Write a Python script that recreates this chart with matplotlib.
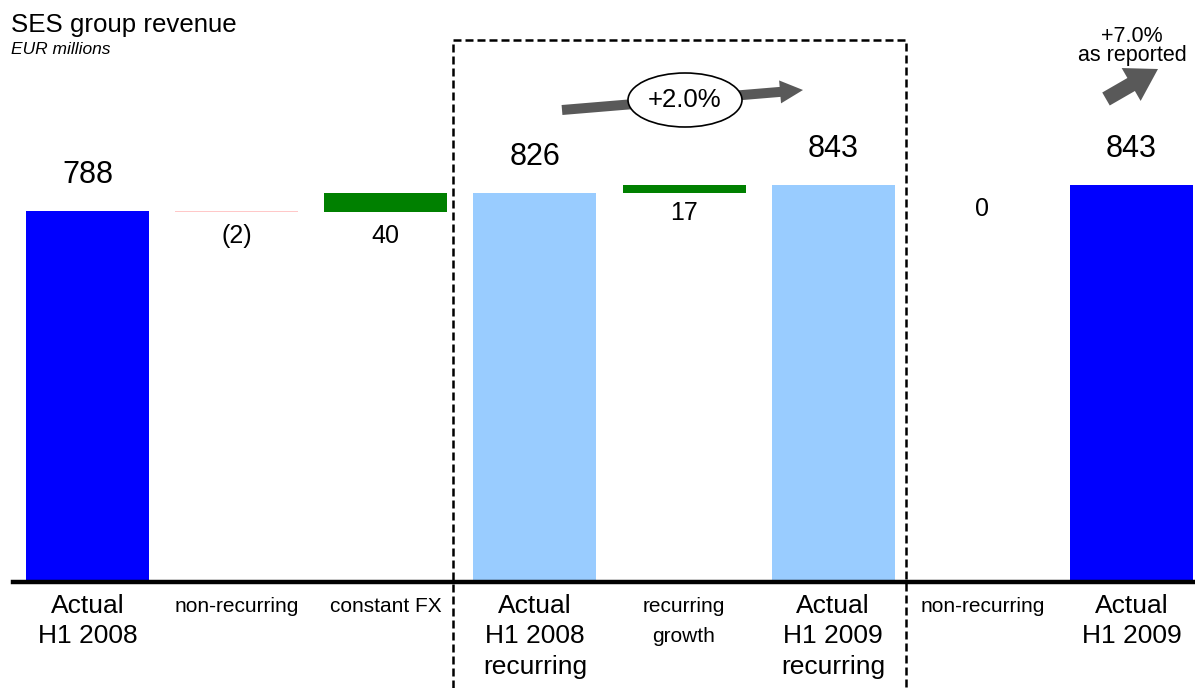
import matplotlib
matplotlib.use("Agg")
import matplotlib.pyplot as plt
from matplotlib.patches import Ellipse, FancyArrow

plt.rcParams['font.family'] = ['Liberation Sans', 'DejaVu Sans']

# Waterfall data (EUR millions)
categories = ["Actual\nH1 2008", "non-recurring", "constant FX",
              "Actual\nH1 2008\nrecurring", "recurring\ngrowth",
              "Actual\nH1 2009\nrecurring", "non-recurring", "Actual\nH1 2009"]
values = [788, -2, 40, 826, 17, 843, 0, 843]
kinds = ["total", "delta", "delta", "subtotal", "delta", "subtotal", "delta", "total"]
value_labels = ["788", "(2)", "40", "826", "17", "843", "0", "843"]

colors = {"total": "#0000FF", "subtotal": "#99CCFF"}
up_color = "#008000"
down_color = "#FFC8C8"

W, H = 1195, 688
fig = plt.figure(figsize=(W / 100, H / 100), dpi=100)
# axes: baseline at 582 px, scale ~0.4708 px per EUR m
ax = fig.add_axes([12.9 / W, 106 / H, 1 - 12.9 / W, 1 - 106 / H])
ax.set_xlim(-0.5, 7.426)
ax.set_ylim(0, 582 / 0.4708)
ax.axis("off")

width = 0.825
level = 0
for i, (v, k, lab) in enumerate(zip(values, kinds, value_labels)):
    if k in ("total", "subtotal"):
        ax.bar(i, v, width=width, color=colors[k], zorder=2)
        level = v
        ax.annotate(lab, xy=(i, v), xytext=(0, 36), textcoords="offset pixels",
                    ha="center", va="center", fontsize=22)
    else:
        if v > 0:
            ax.bar(i, v, bottom=level, width=width, color=up_color, zorder=2)
            bottom = level
        elif v < 0:
            ax.bar(i, -v, bottom=level + v, width=width, color=down_color, zorder=2)
            bottom = level + v
        else:
            bottom = level
        level += v
        off = -20 if 0 < v < 20 else -24
        ax.annotate(lab, xy=(i, bottom), xytext=(0, off), textcoords="offset pixels",
                    ha="center", va="center", fontsize=18)

# baseline
ax.axhline(0, color="black", lw=3.2, zorder=3, clip_on=False)

# category labels
for i, (c, k) in enumerate(zip(categories, kinds)):
    if k == "delta":
        ax.annotate(c, xy=(i, 0), xytext=(0, -15), textcoords="offset pixels",
                    ha="center", va="top", fontsize=15, linespacing=1.75)
    else:
        ax.annotate(c, xy=(i, 0), xytext=(0, -12), textcoords="offset pixels",
                    ha="center", va="top", fontsize=19, linespacing=1.33)

# overlay in pixel units for the decorations
ov = fig.add_axes([0, 0, 1, 1], zorder=5)
ov.set_xlim(0, W)
ov.set_ylim(H, 0)
ov.axis("off")
ov.patch.set_alpha(0)

# dashed box around recurring comparison
ov.plot([453, 453, 906, 906], [H, 40, 40, H], color="black", lw=1.8,
        ls=(0, (3.2, 1.6)), clip_on=False)

# +2.0% arrow with ellipse
ov.add_patch(FancyArrow(562, 110, 241, -20, width=10, head_width=23,
                        head_length=23, length_includes_head=True,
                        color="#595959", lw=0))
ov.add_patch(Ellipse((685, 100), 114, 54, facecolor="white",
                     edgecolor="black", lw=1.2))
ov.text(685, 100, "+2.0%", ha="center", va="center", fontsize=18.5)

# +7.0% arrow
ov.add_patch(FancyArrow(1106, 99, 52, -30, width=15, head_width=38,
                        head_length=31, length_includes_head=True,
                        color="#595959", lw=0))
ov.text(1132, 37, "+7.0%", ha="center", va="center", fontsize=15.5)
ov.text(1132, 56, "as reported", ha="center", va="center", fontsize=15.5)

# title
ov.text(11, 25, "SES group revenue", ha="left", va="center", fontsize=18.6)
ov.text(11, 50, "EUR millions", ha="left", va="center", fontsize=12.5,
        style="italic")

fig.savefig("out.png", dpi=100)
